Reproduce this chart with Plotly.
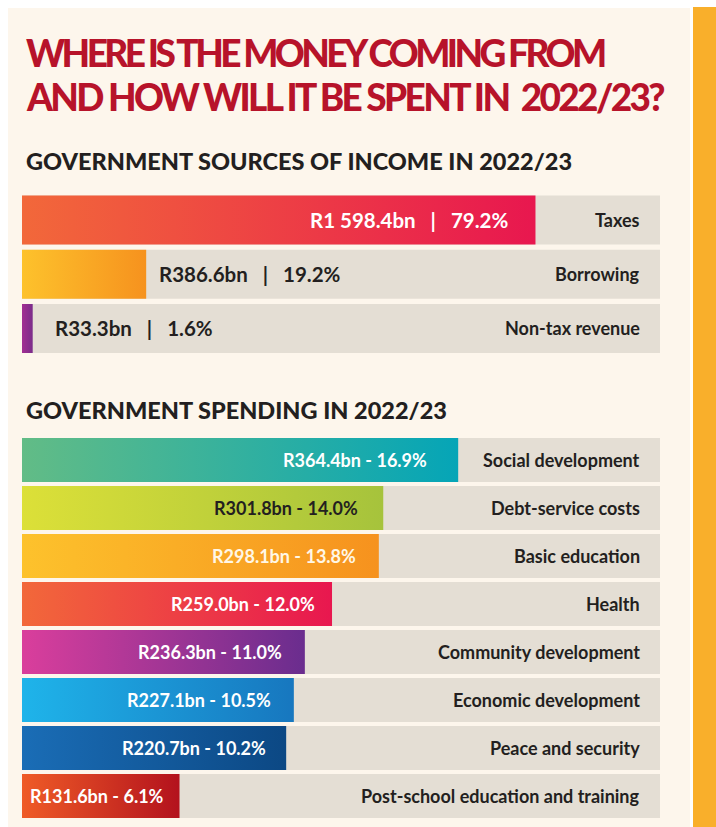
import plotly.graph_objects as go

W, H = 716, 827

# ---------------- data ----------------
income_categories = ["Taxes", "Borrowing", "Non-tax revenue"]
income_values = [1598.4, 386.6, 33.3]          # R billion
income_shares = [79.2, 19.2, 1.6]              # percent

spending_categories = [
    "Social development",
    "Debt-service costs",
    "Basic education",
    "Health",
    "Community development",
    "Economic development",
    "Peace and security",
    "Post-school education and training",
]
spending_values = [364.4, 301.8, 298.1, 259.0, 236.3, 227.1, 220.7, 131.6]   # R billion
spending_shares = [16.9, 14.0, 13.8, 12.0, 11.0, 10.5, 10.2, 6.1]           # percent

# ---------------- styles ----------------
CREAM = "#FDF6EC"
TRACK = "#E4DED4"
ORANGE_STRIP = "#F9AF2B"
TITLE_RED = "#B7132A"
DARK = "#231F20"

income_grad = [("#F2683A", "#E8174F"), ("#FDC22C", "#F6921E"), ("#A22E93", "#7A2C8A")]
income_text_col = ["white", DARK, DARK]
income_text_shift = [-25, 11, 20]
spending_grad = [
    ("#62BC86", "#05A5B7"),
    ("#DCE038", "#A6C33C"),
    ("#FDC22C", "#F6921E"),
    ("#F2683A", "#E8174F"),
    ("#DA3E9C", "#6A2D8E"),
    ("#1FB4EA", "#1777BF"),
    ("#1A6DB6", "#0C4884"),
    ("#EF5B27", "#B3121D"),
]
spending_text_col = ["white", DARK, "#FFF7E6", "white", "white", "white", "white", "white"]
spending_text_shift = [-29, -23, -21, -15, -21, -21, -18, -14]

FONT = "Lato, 'Open Sans', 'DejaVu Sans', sans-serif"
TITLE_FONT = "Lato, 'Open Sans', sans-serif"

INCOME_MAX = 1986.0
SPEND_MAX = 533.0
X0, X1 = 22 / W, 660 / W


def py(v):
    return 1 - v / H


fig = go.Figure()

# tracks (full-width grey rows)
fig.add_trace(go.Bar(
    x=[INCOME_MAX] * len(income_values), y=list(range(len(income_values))),
    orientation="h", width=0.9, marker=dict(color=TRACK, line=dict(width=0)),
    hoverinfo="skip", xaxis="x", yaxis="y", showlegend=False))
fig.add_trace(go.Bar(
    x=[SPEND_MAX] * len(spending_values), y=list(range(len(spending_values))),
    orientation="h", width=0.916, marker=dict(color=TRACK, line=dict(width=0)),
    hoverinfo="skip", xaxis="x2", yaxis="y2", showlegend=False))


def grad_bar(i, v, h, cols, xa, ya):
    fig.add_trace(go.Scatter(
        x=[0, v, v, 0, 0], y=[i - h, i - h, i + h, i + h, i - h],
        mode="none", fill="toself",
        fillgradient=dict(type="horizontal",
                          colorscale=[[0, cols[0]], [1, cols[1]]]),
        hoverinfo="skip", showlegend=False, xaxis=xa, yaxis=ya))


annotations = []

NB = "\u00a0"
SEP = f"{NB}{NB}{NB}|{NB}{NB}{NB}"
for i, (cat, v, s) in enumerate(zip(income_categories, income_values, income_shares)):
    grad_bar(i, v, 0.4515, income_grad[i], "x", "y")
    label = f"R{v:,.1f}bn".replace(",", " ") + SEP + f"{s:.1f}%"
    annotations.append(dict(
        x=v, y=i, xref="x", yref="y", text=label, showarrow=False,
        xanchor="right" if income_text_shift[i] < 0 else "left",
        xshift=income_text_shift[i], yanchor="middle",
        font=dict(family=FONT, size=20.5, color=income_text_col[i], weight="bold")))
    annotations.append(dict(
        x=INCOME_MAX, y=i, xref="x", yref="y", text=cat, showarrow=False,
        xanchor="right", xshift=-18, yanchor="middle",
        font=dict(family=FONT, size=18, color=DARK, weight="bold")))

for i, (cat, v, s) in enumerate(zip(spending_categories, spending_values, spending_shares)):
    grad_bar(i, v, 0.458, spending_grad[i], "x2", "y2")
    annotations.append(dict(
        x=v, y=i, xref="x2", yref="y2", text=f"R{v:.1f}bn - {s:.1f}%",
        showarrow=False, xanchor="right", xshift=spending_text_shift[i], yanchor="middle",
        font=dict(family=FONT, size=18, color=spending_text_col[i], weight="bold")))
    annotations.append(dict(
        x=SPEND_MAX, y=i, xref="x2", yref="y2", text=cat, showarrow=False,
        xanchor="right", xshift=-18, yanchor="middle",
        font=dict(family=FONT, size=18, color=DARK, weight="bold")))

# titles
for txt, yc, ls in [("WHERE IS THE MONEY COMING FROM", 53, -3.55),
                    ("AND HOW WILL IT BE SPENT IN\u00a0\u00a02022/23?", 96.5, -2.65)]:
    annotations.append(dict(
        x=24 / W, y=py(yc), xref="paper", yref="paper",
        text=f'<span style="letter-spacing:{ls}px">{txt}</span>',
        showarrow=False, xanchor="left", yanchor="middle",
        font=dict(family=TITLE_FONT, size=37, color=TITLE_RED, weight=900)))

for txt, yc in [("GOVERNMENT SOURCES OF INCOME IN 2022/23", 161.5),
                ("GOVERNMENT SPENDING IN 2022/23", 409.5)]:
    annotations.append(dict(
        x=24 / W, y=py(yc), xref="paper", yref="paper", text=txt,
        showarrow=False, xanchor="left", yanchor="middle",
        font=dict(family=FONT, size=23.5, color=DARK, weight=900)))

shapes = [
    dict(type="rect", xref="paper", yref="paper", x0=8 / W, x1=690 / W, y0=0, y1=py(8),
         fillcolor=CREAM, line=dict(width=0), layer="below"),
    dict(type="rect", xref="paper", yref="paper", x0=693 / W, x1=1, y0=0, y1=py(7),
         fillcolor=ORANGE_STRIP, line=dict(width=0), layer="below"),
]

fig.update_layout(
    width=W, height=H, margin=dict(l=0, r=0, t=0, b=0),
    paper_bgcolor="white", plot_bgcolor="rgba(0,0,0,0)",
    barmode="overlay", showlegend=False,
    xaxis=dict(domain=[X0, X1], range=[0, INCOME_MAX], visible=False, fixedrange=True, anchor="y"),
    yaxis=dict(domain=[py(355.6), py(192.9)], range=[2.5, -0.5], visible=False, fixedrange=True, anchor="x"),
    xaxis2=dict(domain=[X0, X1], range=[0, SPEND_MAX], visible=False, fixedrange=True, anchor="y2"),
    yaxis2=dict(domain=[py(820), py(436)], range=[7.5, -0.5], visible=False, fixedrange=True, anchor="x2"),
    annotations=annotations, shapes=shapes,
)

fig.write_html(
    "out.html", config=dict(displayModeBar=False),
    post_script="document.body.style.margin='0';document.body.style.overflow='hidden';")
